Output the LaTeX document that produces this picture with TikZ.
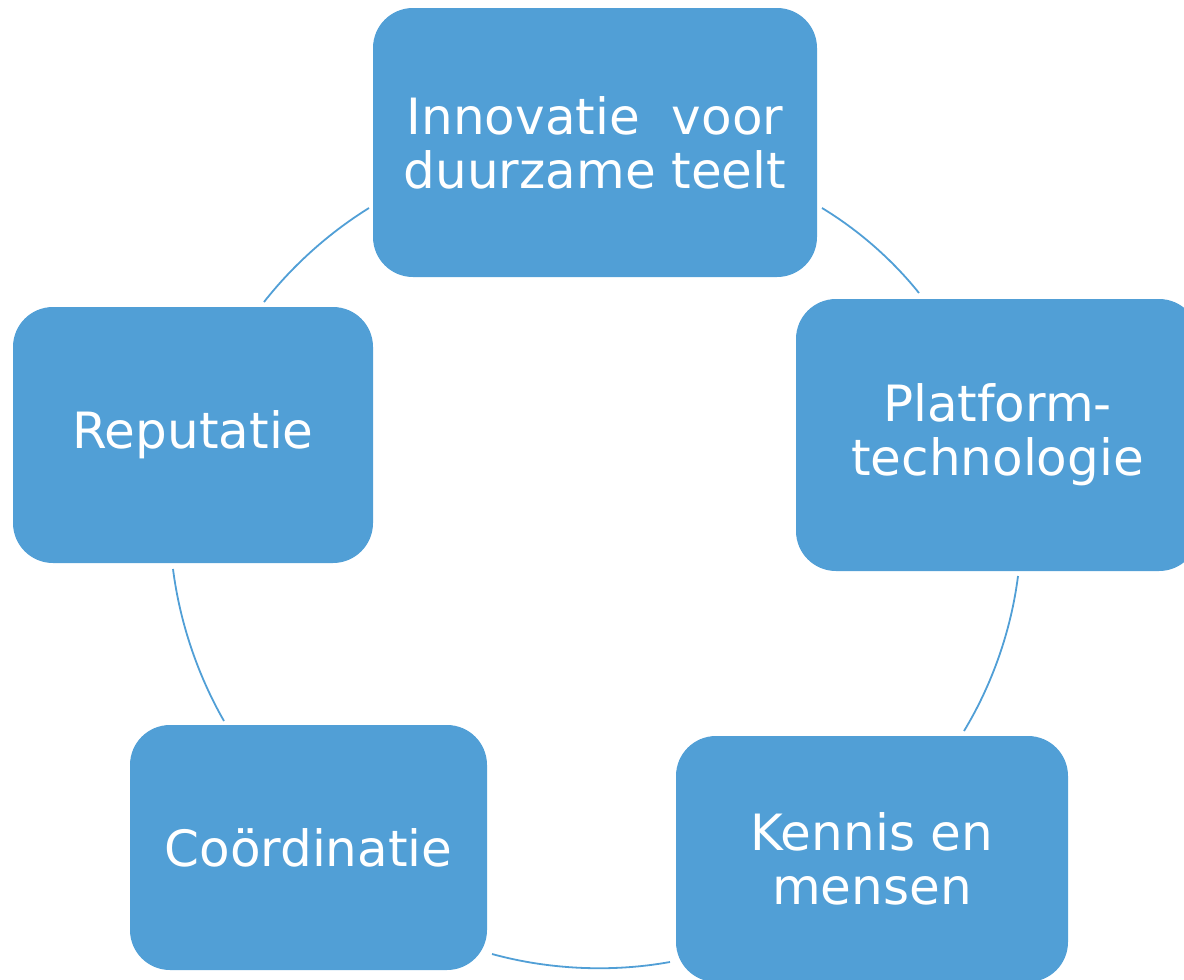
\documentclass[tikz,border=0pt]{standalone}
\usepackage{fontspec}
\setmainfont{DejaVu Sans}
\definecolor{boxblue}{RGB}{81,159,214}
\begin{document}
\begin{tikzpicture}[x=1pt,y=-1pt,
  cyclebox/.style={draw=none,fill=boxblue,rounded corners=40pt,inner sep=0pt,
    text=white,align=center,font=\fontsize{50}{54}\selectfont},
  cyclearc/.style={draw=boxblue,line width=1.8pt,looseness=0.85}]
\useasboundingbox (0,0) rectangle (1184,980);
\node[cyclebox,minimum width=444pt,minimum height=269pt] (b1) at (595,142.5) {Innovatie\ \ voor\\duurzame teelt};
\node[cyclebox,minimum width=403pt,minimum height=272pt] (b2) at (997.5,435) {Platform-\\technologie};
\node[cyclebox,minimum width=392pt,minimum height=246pt] (b3) at (872,859) {Kennis en\\mensen};
\node[cyclebox,minimum width=357pt,minimum height=245pt] (b4) at (308.5,847.5) {Coördinatie};
\node[cyclebox,minimum width=360pt,minimum height=256pt] (b5) at (193,435) {Reputatie};
\coordinate (a1s) at (264,302);
\coordinate (a1e) at (369,208);
\coordinate (a2s) at (822,208);
\coordinate (a2e) at (919,293);
\coordinate (a3s) at (1018,576);
\coordinate (a3e) at (964,731);
\coordinate (a4s) at (670,962);
\coordinate (a4e) at (492,954);
\coordinate (a5s) at (224,721);
\coordinate (a5e) at (173,569);
\draw[cyclearc] (a1s) to[bend left=10] (a1e);
\draw[cyclearc] (a2s) to[bend left=10] (a2e);
\draw[cyclearc] (a3s) to[bend left=12] (a3e);
\draw[cyclearc] (a4s) to[bend left=12.8] (a4e);
\draw[cyclearc] (a5s) to[bend left=11.3] (a5e);
\end{tikzpicture}
\end{document}
